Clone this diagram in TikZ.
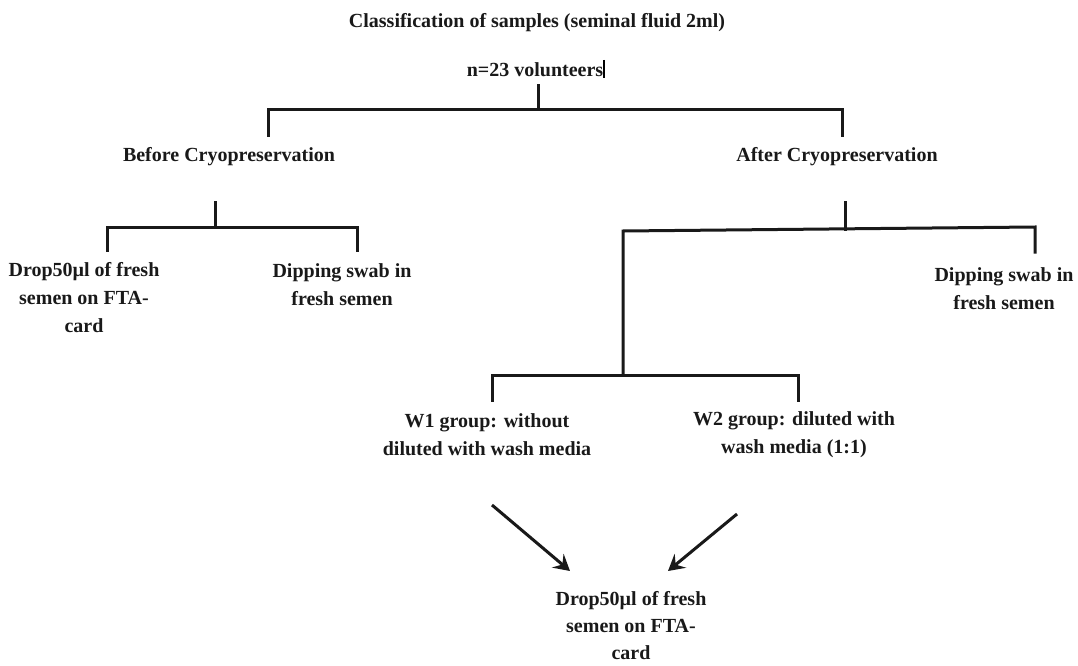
\documentclass[tikz,border=0pt]{standalone}
\usepackage{fontspec}
\setmainfont{Liberation Serif}
\usetikzlibrary{arrows.meta}
\begin{document}
\begin{tikzpicture}[x=1pt,y=-1pt,
  lbl/.style={font=\fontsize{20}{28}\selectfont\bfseries, align=center, inner sep=0pt, text=black!90},
  ln/.style={line width=3pt, line cap=rect, black!90},
  arr/.style={line width=3pt, black!90, -{Stealth[length=16pt,width=18pt,inset=6pt]}}]
\useasboundingbox (0,0) rectangle (1078,666);
% texts
\node[lbl] (title) at (537,23) {Classification of samples (seminal fluid 2ml)};
\node[lbl] (n) at (535,70) {n=23 volunteers};
\node[lbl] (before) at (229,157) {Before Cryopreservation};
\node[lbl] (after) at (837,157) {After Cryopreservation};
\node[lbl] (dropL) at (84,298) {Drop50µl of fresh\\semen on FTA-\\card};
\node[lbl] (dipL) at (342,285) {Dipping swab in\\fresh semen};
\node[lbl] (dipR) at (1004,289) {Dipping swab in\\fresh semen};
\node[lbl] (w1) at (487,435) {W1 group: without\\diluted with wash media};
\node[lbl] (w2) at (794,435) {W2 group: diluted with\\wash media (1:1)};
\node[lbl, font=\fontsize{20}{27}\selectfont\bfseries] (dropB) at (631,626) {Drop50µl of fresh\\semen on FTA-\\card};
% cursor mark
\coordinate (c1) at (604,60); \coordinate (c2) at (604,78);
\draw[line width=1.5pt] (c1) -- (c2);
% top tree
\coordinate (t0) at (538,86); \coordinate (t1) at (538,110);
\coordinate (tl) at (268,110); \coordinate (tr) at (842,110);
\coordinate (tlb) at (268,135); \coordinate (trb) at (842,135);
\draw[ln] (t0) -- (t1);
\draw[ln] (tlb) -- (tl) -- (tr) -- (trb);
% before tree
\coordinate (b0) at (215,202); \coordinate (b1) at (215,227);
\coordinate (bl) at (107,227); \coordinate (br) at (357,227);
\coordinate (blb) at (107,250); \coordinate (brb) at (357,250);
\draw[ln] (b0) -- (b1);
\draw[ln] (blb) -- (bl) -- (br) -- (brb);
% after tree
\coordinate (a0) at (845,202); \coordinate (a1) at (845,229);
\coordinate (al) at (623,231); \coordinate (ar) at (1035,227);
\coordinate (arb) at (1035,252);
\coordinate (alb) at (623,375);
\draw[ln] (a0) -- (a1);
\draw[ln] (alb) -- (al) -- (ar) -- (arb);
% wash tree
\coordinate (wl) at (492,375); \coordinate (wr) at (798,375);
\coordinate (wlb) at (492,400); \coordinate (wrb) at (798,400);
\draw[ln] (wlb) -- (wl) -- (wr) -- (wrb);
% arrows
\coordinate (s1) at (492,505); \coordinate (e1) at (570,571);
\coordinate (s2) at (737,514); \coordinate (e2) at (668,571);
\draw[arr] (s1) -- (e1);
\draw[arr] (s2) -- (e2);
\end{tikzpicture}
\end{document}
